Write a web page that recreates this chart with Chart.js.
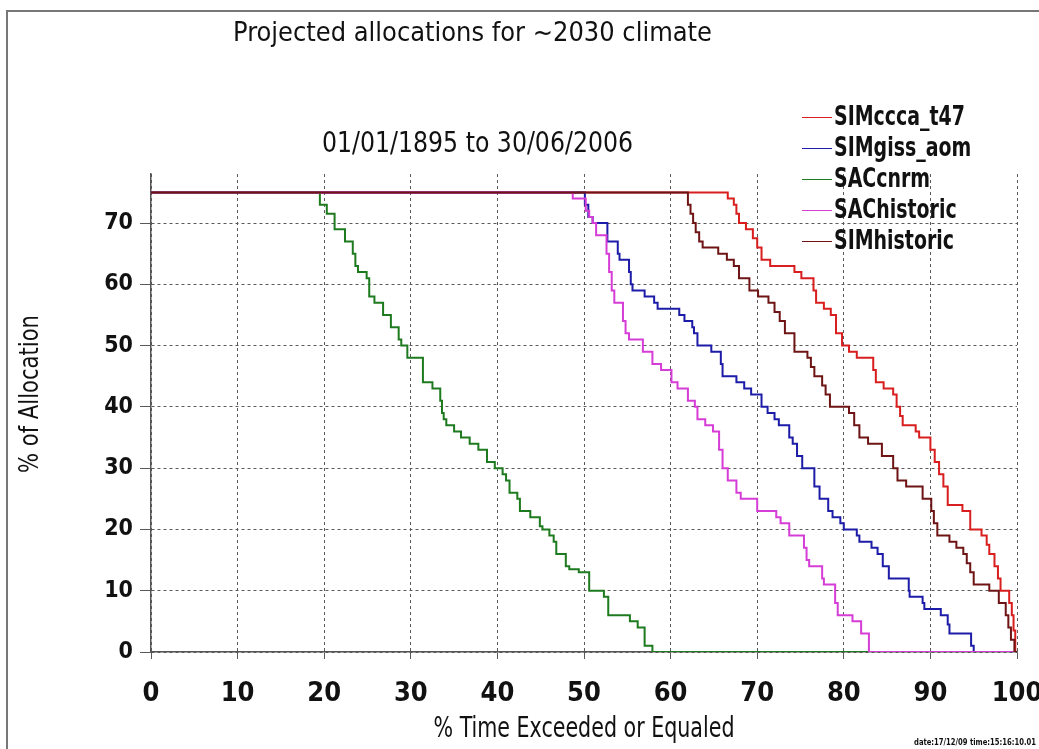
<!DOCTYPE html>
<html>
<head>
<meta charset="utf-8">
<title>Projected allocations for ~2030 climate</title>
<script src="https://cdn.jsdelivr.net/npm/chart.js@4.4.0/dist/chart.umd.min.js"></script>
<style>
  html, body { margin: 0; padding: 0; background: #fff; }
</style>
</head>
<body>
<canvas id="chart" width="1039" height="749"></canvas>
<script>
// condensed face, close to the narrow font of the original plot
const NARROW = "'Liberation Sans Narrow', 'Arial Narrow', 'DejaVu Sans Condensed', 'Liberation Sans', sans-serif";

const titleText = 'Projected allocations for ~2030 climate';
const subtitleText = '01/01/1895 to 30/06/2006';
const xTitleText = '% Time Exceeded or Equaled';
const yTitleText = '% of Allocation';
const stampText = 'date:17/12/09 time:15:16:10.01';

const seriesNames = ['SIMccca_t47', 'SIMgiss_aom', 'SACcnrm', 'SAChistoric', 'SIMhistoric'];
const seriesColors = ['#d81e1e', '#1c1ca8', '#1e7a1e', '#d63cd6', '#6e1414'];

const xTicks = [0, 10, 20, 30, 40, 50, 60, 70, 80, 90, 100];
const yTicks = [0, 10, 20, 30, 40, 50, 60, 70];

// each series: x where a level starts, and the level (step curve)
const ccca_x = [0, 66.6, 67.3, 67.6, 67.9, 68.7, 69.5, 70.0, 70.5, 71.5, 74.3, 75.1, 76.5, 76.8, 77.7, 78.5, 79.1, 79.8, 80.6, 81.5, 83.4, 83.7, 84.6, 85.7, 86.1, 86.5, 86.8, 88.3, 88.7, 90.0, 90.5, 91.0, 91.5, 92.0, 93.7, 94.6, 95.9, 96.5, 96.8, 97.4, 97.8, 98.1, 99.1, 99.4, 99.6, 99.8, 100];
const ccca_y = [75, 74, 73, 71.5, 70, 69, 67.5, 66, 64, 63, 62, 61, 59, 57, 56, 55, 52, 50, 49, 48, 46, 44, 43, 42, 40, 38.5, 37, 36, 35, 33, 31, 29, 27, 24, 23, 20, 19, 17.5, 16, 14, 12, 10, 8, 6, 3.5, 0, 0];

const giss_x = [0, 50.1, 50.5, 51.0, 52.7, 53.9, 54.1, 55.2, 55.4, 55.6, 57.0, 58.1, 58.5, 61.0, 61.6, 62.5, 62.7, 63.1, 64.7, 65.8, 66.0, 67.6, 68.5, 69.3, 70.5, 71.2, 72.0, 72.5, 73.7, 74.1, 74.6, 75.2, 76.6, 77.2, 78.2, 78.7, 79.6, 80.0, 81.5, 81.8, 83.2, 83.9, 84.5, 85.2, 87.5, 87.6, 89.1, 89.3, 91.2, 92.0, 92.2, 94.7, 95.0, 100];
const giss_y = [75, 73, 71, 70, 67, 65, 64, 62, 60, 59, 58, 57, 56, 55, 54, 53, 52, 50, 49, 47, 45, 44, 43, 42, 40, 39, 38, 37, 35, 34, 32, 30, 27, 25, 23, 22, 21, 20, 19, 18, 17, 16, 14, 12, 10, 9, 8, 7, 6, 4.5, 3, 1, 0, 0];

const cnrm_x = [0, 19.5, 20.3, 21.2, 22.4, 23.3, 23.6, 23.9, 24.9, 25.2, 25.8, 26.8, 27.7, 28.6, 28.9, 29.6, 31.4, 32.5, 33.4, 33.6, 33.8, 34.1, 35.0, 35.8, 36.8, 37.8, 38.8, 39.7, 40.6, 41.0, 41.4, 42.3, 42.6, 43.8, 44.9, 45.2, 46.0, 46.5, 46.8, 47.9, 48.3, 49.4, 50.6, 52.3, 52.8, 55.3, 56.2, 57.0, 57.9, 100];
const cnrm_y = [75, 73, 71.5, 69, 67, 65, 63, 62, 61, 58, 57, 55, 53, 51, 50, 48, 44, 43, 41, 39, 38, 37, 36, 35, 34, 33, 31, 30, 29, 28, 26, 25, 23, 22, 20.5, 20, 19, 18, 16, 14, 13.5, 13, 10, 9, 6, 5, 4, 1, 0, 0];

const sachist_x = [0, 48.7, 50.2, 50.6, 51.0, 51.4, 52.6, 52.9, 53.2, 53.5, 54.5, 54.8, 55.2, 56.8, 57.9, 58.9, 60.1, 60.8, 62.0, 62.8, 63.1, 64.0, 64.9, 65.6, 66.0, 66.6, 67.6, 68.1, 70.0, 72.2, 72.7, 73.7, 75.4, 75.7, 76.0, 77.5, 77.7, 79.0, 79.3, 81.0, 82.0, 82.9, 100];
const sachist_y = [75, 74, 72, 71, 70, 68, 65, 62, 59, 57, 54, 52, 51, 49, 47, 46, 44, 43, 41, 40, 38, 37, 36, 33, 30, 28, 26, 25, 23, 22, 21, 19, 17, 15, 14, 12, 11, 8, 6, 5, 3, 0, 0];

const simhist_x = [0, 62.0, 62.3, 62.6, 62.9, 63.3, 63.7, 65.5, 66.5, 67.3, 67.9, 69.1, 70.1, 71.3, 72.0, 72.6, 73.2, 74.3, 75.8, 76.2, 76.6, 77.5, 77.9, 78.4, 80.6, 81.2, 81.8, 82.8, 84.4, 85.7, 86.2, 87.2, 89.1, 90.1, 90.4, 90.8, 92.2, 93.0, 93.8, 94.2, 94.6, 95.0, 96.8, 97.9, 98.7, 99.0, 99.3, 99.7, 100];
const simhist_y = [75, 73, 71.5, 70, 68.5, 67, 66, 65, 64, 63, 61, 59, 58, 57, 55.5, 54, 52, 49, 48, 46.5, 45, 43.5, 42, 40, 39, 37, 35, 34, 32, 30, 28, 27, 25, 23, 21, 19, 18, 17, 16, 14.5, 13, 11, 10, 8, 6, 4, 2, 0, 0];

const seriesX = [ccca_x, giss_x, cnrm_x, sachist_x, simhist_x];
const seriesY = [ccca_y, giss_y, cnrm_y, sachist_y, simhist_y];

function toPoints(xs, ys) {
    return xs.map((x, i) => ({ x: x, y: ys[i] }));
}

const datasets = seriesNames.map((name, i) => ({
    label: name,
    data: toPoints(seriesX[i], seriesY[i]),
    borderColor: seriesColors[i],
    backgroundColor: seriesColors[i],
    borderWidth: 2,
    pointRadius: 0,
    // horizontal first, then drop: level holds until the next x
    stepped: 'before',
    fill: false,
    // later series on top, like the original plot
    order: seriesNames.length - i
}));

// titles, legend, frame and stamp drawn on the same canvas
const decorPlugin = {
    id: 'decor',
    beforeDraw(chart) {
        const ctx = chart.ctx;
        ctx.save();
        ctx.fillStyle = '#fff';
        ctx.fillRect(0, 0, chart.width, chart.height);
        ctx.strokeStyle = '#777';
        ctx.lineWidth = 2;
        ctx.beginPath();
        ctx.moveTo(7, chart.height);
        ctx.lineTo(7, 11);
        ctx.lineTo(chart.width, 11);
        ctx.stroke();
        ctx.restore();
    },
    afterDraw(chart) {
        const ctx = chart.ctx;
        const area = chart.chartArea;
        ctx.save();
        ctx.fillStyle = '#111';
        ctx.textAlign = 'left';
        ctx.textBaseline = 'alphabetic';

        ctx.font = `27px ${NARROW}`;
        ctx.fillText(titleText, 233, 41, 479);
        ctx.font = `28px ${NARROW}`;
        ctx.fillText(subtitleText, 322, 152, 311);

        // axis titles (squeezed like the narrow face of the original)
        ctx.textAlign = 'center';
        ctx.textBaseline = 'middle';
        ctx.font = `28px ${NARROW}`;
        ctx.fillText(xTitleText, (area.left + area.right) / 2, 730, 301);
        ctx.save();
        ctx.translate(31, 394);
        ctx.rotate(-Math.PI / 2);
        ctx.font = `27px ${NARROW}`;
        ctx.fillText(yTitleText, 0, 0, 158);
        ctx.restore();

        // legend
        ctx.textAlign = 'left';
        ctx.font = `bold 26px ${NARROW}`;
        const k = Math.min(1, 131 / ctx.measureText(seriesNames[0]).width);
        seriesNames.forEach((name, i) => {
            const y = Math.round(117 + i * 31) + 0.5;
            ctx.strokeStyle = seriesColors[i];
            ctx.lineWidth = 1;
            ctx.beginPath();
            ctx.moveTo(802, y);
            ctx.lineTo(832, y);
            ctx.stroke();
            ctx.fillStyle = '#111';
            ctx.fillText(name, 834, y + 1, ctx.measureText(name).width * k);
        });

        ctx.font = `bold 9px ${NARROW}`;
        ctx.textAlign = 'right';
        ctx.textBaseline = 'alphabetic';
        ctx.fillText(stampText, 1036, 745, 122);
        ctx.restore();
    }
};

const gridColor = '#5a5a5a';

new Chart(document.getElementById('chart'), {
    type: 'line',
    data: { datasets: datasets },
    options: {
        responsive: false,
        animation: false,
        layout: { padding: { top: 174, right: 22, left: 0, bottom: 0 } },
        plugins: {
            legend: { display: false },
            tooltip: { enabled: false }
        },
        scales: {
            x: {
                type: 'linear',
                min: 0,
                max: 100,
                afterBuildTicks: (scale) => { scale.ticks = xTicks.map(v => ({ value: v })); },
                afterFit: (scale) => {
                    scale.height = 97;
                    scale.paddingLeft = 0;
                    scale.paddingRight = 0;
                },
                grid: { color: gridColor, lineWidth: 1, tickLength: 7, tickColor: gridColor, tickBorderDash: [] },
                border: { display: true, color: '#555', width: 1.5, dash: [3, 3] },
                ticks: {
                    color: '#111',
                    padding: 19,
                    maxRotation: 0,
                    autoSkip: false,
                    font: { family: NARROW, size: 27, weight: 'bold' }
                },
                title: { display: false }
            },
            y: {
                type: 'linear',
                min: 0,
                max: 78,
                afterBuildTicks: (scale) => { scale.ticks = yTicks.map(v => ({ value: v })); },
                afterFit: (scale) => {
                    scale.width = 151;
                    scale.paddingTop = 0;
                    scale.paddingBottom = 0;
                },
                grid: { color: gridColor, lineWidth: 1, tickLength: 11, tickColor: gridColor, tickBorderDash: [] },
                border: { display: true, color: '#555', width: 1.5, dash: [3, 3] },
                ticks: {
                    color: '#111',
                    padding: 7,
                    autoSkip: false,
                    font: { family: NARROW, size: 23, weight: 'bold' }
                },
                title: { display: false }
            }
        }
    },
    plugins: [decorPlugin]
});
</script>
</body>
</html>
